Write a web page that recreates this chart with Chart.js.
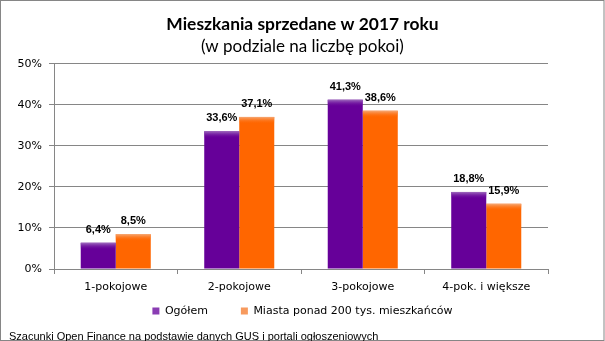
<!DOCTYPE html>
<html>
<head>
<meta charset="utf-8">
<script src="https://cdn.jsdelivr.net/npm/chart.js@4.4.0/dist/chart.umd.min.js"></script>
<style>
  html, body { margin: 0; padding: 0; background: #fff; }
  #wrap { position: relative; width: 605px; height: 341px; overflow: hidden; }
  #c { position: absolute; left: 0; top: 0; }
  #footer { position: absolute; left: 9px; top: 329px; font-family: "Liberation Sans", Arial, sans-serif; font-size: 11px; line-height: 14px; color: #000; white-space: nowrap; }
</style>
</head>
<body>
<div id="wrap">
  <canvas id="c" width="605" height="341"></canvas>
  <div id="footer">Szacunki Open Finance na podstawie danych GUS i portali ogłoszeniowych</div>
</div>
<script>
const categories = ['1-pokojowe', '2-pokojowe', '3-pokojowe', '4-pok. i większe'];
const ogolem = [6.4, 33.6, 41.3, 18.8];
const miasta = [8.5, 37.1, 38.6, 15.9];
const seriesNames = ['Ogółem', 'Miasta ponad 200 tys. mieszkańców'];
const yTicks = [0, 10, 20, 30, 40, 50];
const titleText = 'Mieszkania sprzedane w 2017 roku';
const subtitleText = '(w podziale na liczbę pokoi)';

const barColors = ['#660099', '#FF6600'];
const topColors = ['rgba(160,110,190,1)', 'rgba(245,170,120,1)'];
const topFade = ['rgba(102,0,153,0)', 'rgba(255,102,0,0)'];
const legendColors = ['#8A3DB3', '#F79A5E'];
const gridColor = '#868686';
const LEGEND_PAD = 33;

const fmt = v => v.toFixed(1).replace('.', ',') + '%';

const decorPlugin = {
  id: 'decor',
  afterLayout(chart) {
    const W = chart.width;
    chart.boxes.forEach(b => {
      const isSub = b.options && b.options.text === subtitleText;
      if (b === chart.legend || b === chart.titleBlock || isSub) {
        b.left = 0; b.right = W; b.width = W;
      }
    });
    const lg = chart.legend;
    if (lg) {
      lg.top = 311 - 5.5 - LEGEND_PAD;
      lg.height = 58;
      lg.bottom = lg.top + lg.height;
    }
  },
  afterDatasetsDraw(chart) {
    const ctx = chart.ctx;
    ctx.save();
    chart.data.datasets.forEach((ds, di) => {
      const meta = chart.getDatasetMeta(di);
      meta.data.forEach((el, i) => {
        const p = el.getProps(['x', 'y', 'width', 'base'], true);
        const h = Math.min(7, p.base - p.y);
        const g = ctx.createLinearGradient(0, p.y, 0, p.y + h);
        g.addColorStop(0, topColors[di]);
        g.addColorStop(1, topFade[di]);
        ctx.fillStyle = g;
        ctx.fillRect(p.x - p.width / 2, p.y, p.width, h);
      });
    });
    ctx.fillStyle = '#000';
    ctx.font = 'bold 11px "Liberation Sans", Arial, sans-serif';
    ctx.textAlign = 'center';
    ctx.textBaseline = 'middle';
    chart.data.datasets.forEach((ds, di) => {
      const meta = chart.getDatasetMeta(di);
      meta.data.forEach((el, i) => {
        const p = el.getProps(['x', 'y'], true);
        ctx.fillText(fmt(ds.data[i]), p.x, p.y - 13);
      });
    });
    ctx.restore();
  },
  afterDraw(chart) {
    const ctx = chart.ctx;
    ctx.save();
    ctx.strokeStyle = gridColor;
    ctx.lineWidth = 1;
    ctx.strokeRect(0.5, 0.5, 603.5, 340);
    ctx.restore();
  }
};

new Chart(document.getElementById('c'), {
  type: 'bar',
  data: {
    labels: categories,
    datasets: [
      { label: seriesNames[0], data: ogolem, backgroundColor: barColors[0], borderWidth: 0 },
      { label: seriesNames[1], data: miasta, backgroundColor: barColors[1], borderWidth: 0 }
    ]
  },
  options: {
    responsive: false,
    animation: false,
    devicePixelRatio: 1,
    layout: { padding: { left: 0, right: 57, top: 0, bottom: 7 } },
    datasets: { bar: { barPercentage: 1, categoryPercentage: 0.567 } },
    scales: {
      x: {
        grid: { drawOnChartArea: false, drawTicks: true, tickLength: 5, color: gridColor },
        border: { display: true, color: gridColor },
        ticks: { color: '#000', font: { family: '"DejaVu Sans", Verdana, sans-serif', size: 11 }, padding: 7, maxRotation: 0, autoSkip: false },
        afterFit(s) { s.height = 25; }
      },
      y: {
        min: 0, max: 50,
        afterBuildTicks(s) { s.ticks = yTicks.map(v => ({ value: v })); },
        grid: { color: gridColor, tickLength: 5 },
        border: { display: true, color: gridColor },
        ticks: { color: '#000', font: { family: '"DejaVu Sans", Verdana, sans-serif', size: 11 }, padding: 7, callback: v => v + '%' },
        afterFit(s) { s.width = 54; }
      }
    },
    plugins: {
      title: {
        display: true,
        text: titleText,
        color: '#000',
        font: { family: 'Lato, "Open Sans", sans-serif', size: 17.4, weight: 'bold', lineHeight: 1.2 },
        padding: { top: 13.5, bottom: 0 }
      },
      subtitle: {
        display: true,
        text: subtitleText,
        color: '#000',
        font: { family: 'Lato, "Open Sans", sans-serif', size: 17, weight: 'normal', lineHeight: 1.2 },
        padding: { top: 1.6, bottom: 7.6 }
      },
      legend: {
        position: 'bottom',
        maxHeight: 40,
        labels: {
          color: '#000',
          font: { family: '"DejaVu Sans", Verdana, sans-serif', size: 11 },
          boxWidth: 7,
          boxHeight: 7,
          padding: LEGEND_PAD,
          generateLabels(chart) {
            const items = Chart.defaults.plugins.legend.labels.generateLabels(chart);
            items.forEach((it, i) => { it.fillStyle = legendColors[i]; it.strokeStyle = legendColors[i]; it.lineWidth = 0; });
            return items;
          }
        }
      },
      tooltip: { enabled: false }
    }
  },
  plugins: [decorPlugin]
});
</script>
</body>
</html>
